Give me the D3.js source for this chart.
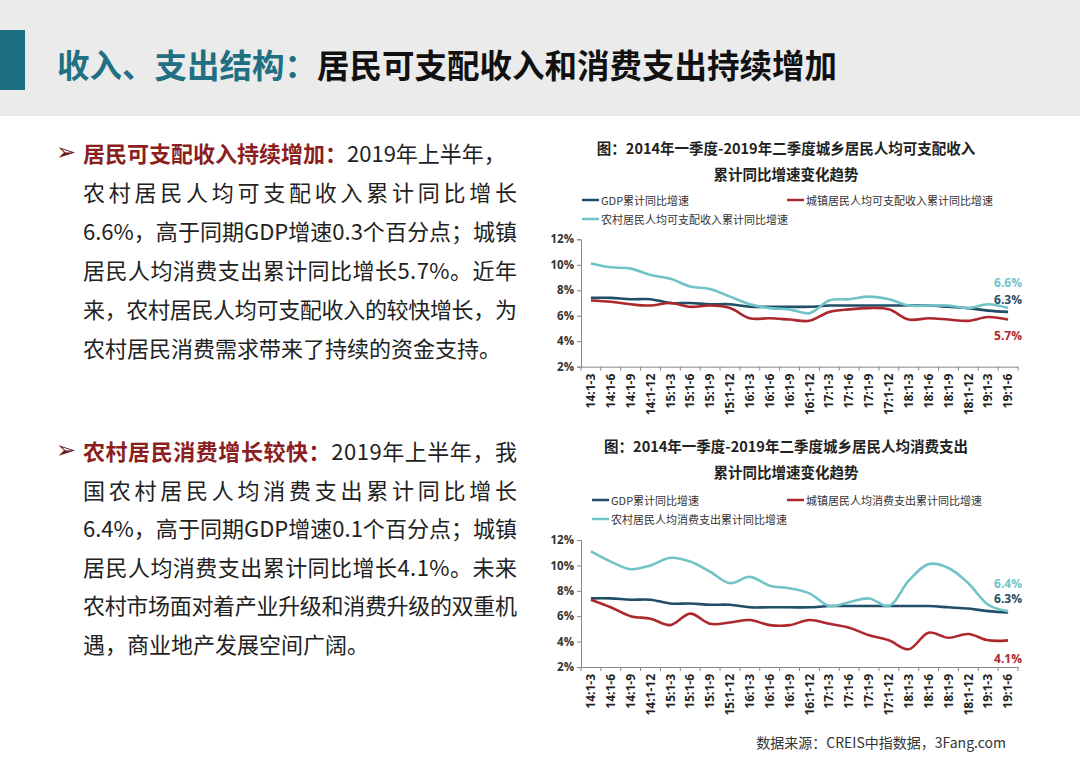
<!DOCTYPE html>
<html lang="zh">
  <head>
    <meta charset="utf-8">
    <title>收入、支出结构</title>
    <style>
      body { margin: 0; background: #fff; }
      svg { display: block; font-family: "Noto Sans CJK SC", "Noto Sans", sans-serif; }
    </style>
  </head>
  <body>
    <svg width="1080" height="764"></svg>
    <script src="https://cdn.jsdelivr.net/npm/d3@7/dist/d3.min.js"></script>
    <script>
      // quarters (cumulative periods)
      const quarters = ['14:1-3','14:1-6','14:1-9','14:1-12','15:1-3','15:1-6','15:1-9','15:1-12',
        '16:1-3','16:1-6','16:1-9','16:1-12','17:1-3','17:1-6','17:1-9','17:1-12',
        '18:1-3','18:1-6','18:1-9','18:1-12','19:1-3','19:1-6'];
      const y_ticks = [2, 4, 6, 8, 10, 12];

      // cumulative y/y growth, %
      const gdp_growth    = [7.4,7.4,7.3,7.3,7.0,7.0,6.9,6.9,6.7,6.7,6.7,6.7,6.8,6.8,6.8,6.8,6.8,6.8,6.7,6.6,6.4,6.3];
      const urban_income  = [7.2,7.1,6.9,6.8,7.0,6.7,6.8,6.6,5.8,5.8,5.7,5.6,6.3,6.5,6.6,6.5,5.7,5.8,5.7,5.6,5.9,5.7];
      const rural_income  = [10.1,9.8,9.7,9.2,8.9,8.3,8.1,7.5,6.9,6.6,6.5,6.2,7.2,7.3,7.5,7.3,6.8,6.8,6.8,6.6,6.9,6.6];
      const urban_spend   = [7.3,6.7,6.0,5.8,5.3,6.2,5.4,5.5,5.7,5.3,5.3,5.7,5.4,5.1,4.5,4.1,3.4,4.7,4.3,4.6,4.1,4.1];
      const rural_spend   = [11.1,10.3,9.7,10.0,10.6,10.3,9.5,8.6,9.1,8.4,8.2,7.8,6.8,7.1,7.4,6.8,8.8,10.1,9.8,8.6,6.9,6.4];

      const C_GDP = '#1f4e66', C_URBAN = '#ad282d', C_RURAL = '#70c4c7';

      const svg = d3.select('svg');

      // ---- header band ----
      svg.append('rect').attr('x', 0).attr('y', 0).attr('width', 1080).attr('height', 116).attr('fill', '#ebebeb');
      svg.append('rect').attr('x', 0).attr('y', 30).attr('width', 25).attr('height', 60).attr('fill', '#1b6e80');
      const head = svg.append('text')
        .attr('x', 57).attr('y', 63)
        .attr('dominant-baseline', 'central')
        .attr('font-size', '32.5px').attr('font-weight', 'bold');
      head.append('tspan').attr('fill', '#216f82').text('收入、支出结构：');
      head.append('tspan').attr('fill', '#111').text('居民可支配收入和消费支出持续增加');

      // ---- left text blocks ----
      function text_block(y0, step, heading, first, lines, justify_first) {
        const g = svg.append('g').attr('font-size', '22px').attr('fill', '#222');
        g.append('text').text('➢')
          .attr('x', 56).attr('y', y0).attr('dominant-baseline', 'central')
          .attr('font-size', '24px').attr('fill', '#6e1a1a').attr('font-family', 'DejaVu Sans');
        const t = g.append('text').attr('x', 83).attr('y', y0).attr('dominant-baseline', 'central');
        t.append('tspan').attr('font-weight', 'bold').attr('fill', '#8b1e1e').text(heading);
        t.append('tspan').text(first);
        if (justify_first) t.attr('textLength', 434).attr('lengthAdjust', 'spacing');
        lines.forEach((s, i) => {
          const l = g.append('text').text(s)
            .attr('x', 83).attr('y', y0 + step * (i + 1)).attr('dominant-baseline', 'central');
          if (i < lines.length - 1) l.attr('textLength', 434).attr('lengthAdjust', 'spacing');
        });
      }
      text_block(152, 39, '居民可支配收入持续增加：', '2019年上半年，', [
        '农村居民人均可支配收入累计同比增长',
        '6.6%，高于同期GDP增速0.3个百分点；城镇',
        '居民人均消费支出累计同比增长5.7%。近年',
        '来，农村居民人均可支配收入的较快增长，为',
        '农村居民消费需求带来了持续的资金支持。'
      ], false);
      text_block(450, 38.6, '农村居民消费增长较快：', '2019年上半年，我', [
        '国农村居民人均消费支出累计同比增长',
        '6.4%，高于同期GDP增速0.1个百分点；城镇',
        '居民人均消费支出累计同比增长4.1%。未来',
        '农村市场面对着产业升级和消费升级的双重机',
        '遇，商业地产发展空间广阔。'
      ], true);

      // ---- charts ----
      function draw_chart(cfg) {
        const x_scale = d3.scaleBand().domain(quarters).range([581, 1018]).padding(0);
        const y_scale = d3.scaleLinear().domain([2, 12]).range([cfg.bottom, cfg.top]);
        const g = svg.append('g');

        // title
        cfg.title.forEach((s, i) => {
          g.append('text').text(s)
            .attr('x', 786).attr('y', cfg.title_y + i * 26)
            .attr('text-anchor', 'middle').attr('dominant-baseline', 'central')
            .attr('font-size', '14.5px').attr('font-weight', 'bold').attr('fill', '#222');
        });

        // legend
        const legend = [
          {name: cfg.names[0], color: C_GDP, x: cfg.leg_x, y: cfg.leg_y},
          {name: cfg.names[1], color: C_URBAN, x: 787, y: cfg.leg_y},
          {name: cfg.names[2], color: C_RURAL, x: cfg.leg_x, y: cfg.leg_y + 19}
        ];
        const lg = g.selectAll('.leg').data(legend).enter().append('g').attr('class', 'leg');
        lg.append('line')
          .attr('x1', d => d.x).attr('x2', d => d.x + 17)
          .attr('y1', d => d.y).attr('y2', d => d.y)
          .attr('stroke', d => d.color).attr('stroke-width', 2.5);
        lg.append('text').text(d => d.name)
          .attr('x', d => d.x + 19).attr('y', d => d.y)
          .attr('dominant-baseline', 'central')
          .attr('font-size', '11px').attr('fill', '#333');

        // axes
        const y_axis = d3.axisLeft(y_scale).tickValues(y_ticks).tickSize(4).tickFormat(d => d + '%');
        const y_g = g.append('g').attr('transform', 'translate(581,0)').call(y_axis);
        y_g.select('.domain').attr('stroke', '#888');
        y_g.selectAll('line').attr('stroke', '#888');
        y_g.selectAll('text').attr('font-size', '11.5px').attr('font-weight', 'bold').attr('fill', '#333')
          .attr('font-family', '"Open Sans", sans-serif');

        const x_axis = d3.axisBottom(x_scale).tickSize(0).tickPadding(0);
        const x_g = g.append('g').attr('transform', `translate(0,${cfg.bottom})`).call(x_axis);
        x_g.select('.domain').attr('stroke', '#888');
        x_g.selectAll('text')
          .attr('font-size', '12px').attr('font-weight', 'bold').attr('fill', '#222')
          .attr('font-family', '"Open Sans", sans-serif')
          .attr('text-anchor', 'end').attr('dy', '0.35em')
          .attr('transform', 'translate(0,7) rotate(-90)');
        // tick marks between categories
        g.selectAll('.xtick').data(d3.range(quarters.length + 1)).enter().append('line')
          .attr('x1', i => 581 + i * x_scale.step()).attr('x2', i => 581 + i * x_scale.step())
          .attr('y1', cfg.bottom).attr('y2', cfg.bottom + 4)
          .attr('stroke', '#888');

        // lines
        const line_gen = d3.line()
          .x((d, i) => x_scale(quarters[i]) + x_scale.bandwidth() / 2)
          .y(d => y_scale(d))
          .curve(d3.curveCatmullRom.alpha(0.5));
        const series = [
          {values: cfg.series[0], color: C_GDP, dy: cfg.label_dy[0]},
          {values: cfg.series[1], color: C_URBAN, dy: cfg.label_dy[1]},
          {values: cfg.series[2], color: C_RURAL, dy: cfg.label_dy[2]}
        ];
        g.selectAll('.series').data(series).enter().append('path')
          .attr('d', d => line_gen(d.values))
          .attr('fill', 'none').attr('stroke', d => d.color).attr('stroke-width', 2.6);

        // end labels
        g.selectAll('.endlab').data(series).enter().append('text')
          .text(d => d.values[d.values.length - 1].toFixed(1) + '%')
          .attr('x', 1022)
          .attr('y', d => y_scale(d.values[d.values.length - 1]) + d.dy)
          .attr('text-anchor', 'end').attr('dominant-baseline', 'central')
          .attr('font-size', '12px').attr('font-weight', 'bold')
          .attr('font-family', '"Open Sans", sans-serif')
          .attr('fill', d => d.color);
      }

      draw_chart({
        title: ['图：2014年一季度-2019年二季度城乡居民人均可支配收入', '累计同比增速变化趋势'],
        title_y: 147,
        names: ['GDP累计同比增速', '城镇居民人均可支配收入累计同比增速', '农村居民人均可支配收入累计同比增速'],
        leg_x: 582, leg_y: 200,
        top: 239.3, bottom: 366.7,
        series: [gdp_growth, urban_income, rural_income],
        label_dy: [-12, 16, -26]
      });

      draw_chart({
        title: ['图：2014年一季度-2019年二季度城乡居民人均消费支出', '累计同比增速变化趋势'],
        title_y: 445,
        names: ['GDP累计同比增速', '城镇居民人均消费支出累计同比增速', '农村居民人均消费支出累计同比增速'],
        leg_x: 592, leg_y: 500,
        top: 540, bottom: 667,
        series: [gdp_growth, urban_spend, rural_spend],
        label_dy: [-14, 18, -28]
      });

      svg.append('text').text('数据来源：CREIS中指数据，3Fang.com')
        .attr('x', 1006).attr('y', 742)
        .attr('text-anchor', 'end').attr('dominant-baseline', 'central')
        .attr('font-size', '14px').attr('fill', '#333');
    </script>
  </body>
</html>
